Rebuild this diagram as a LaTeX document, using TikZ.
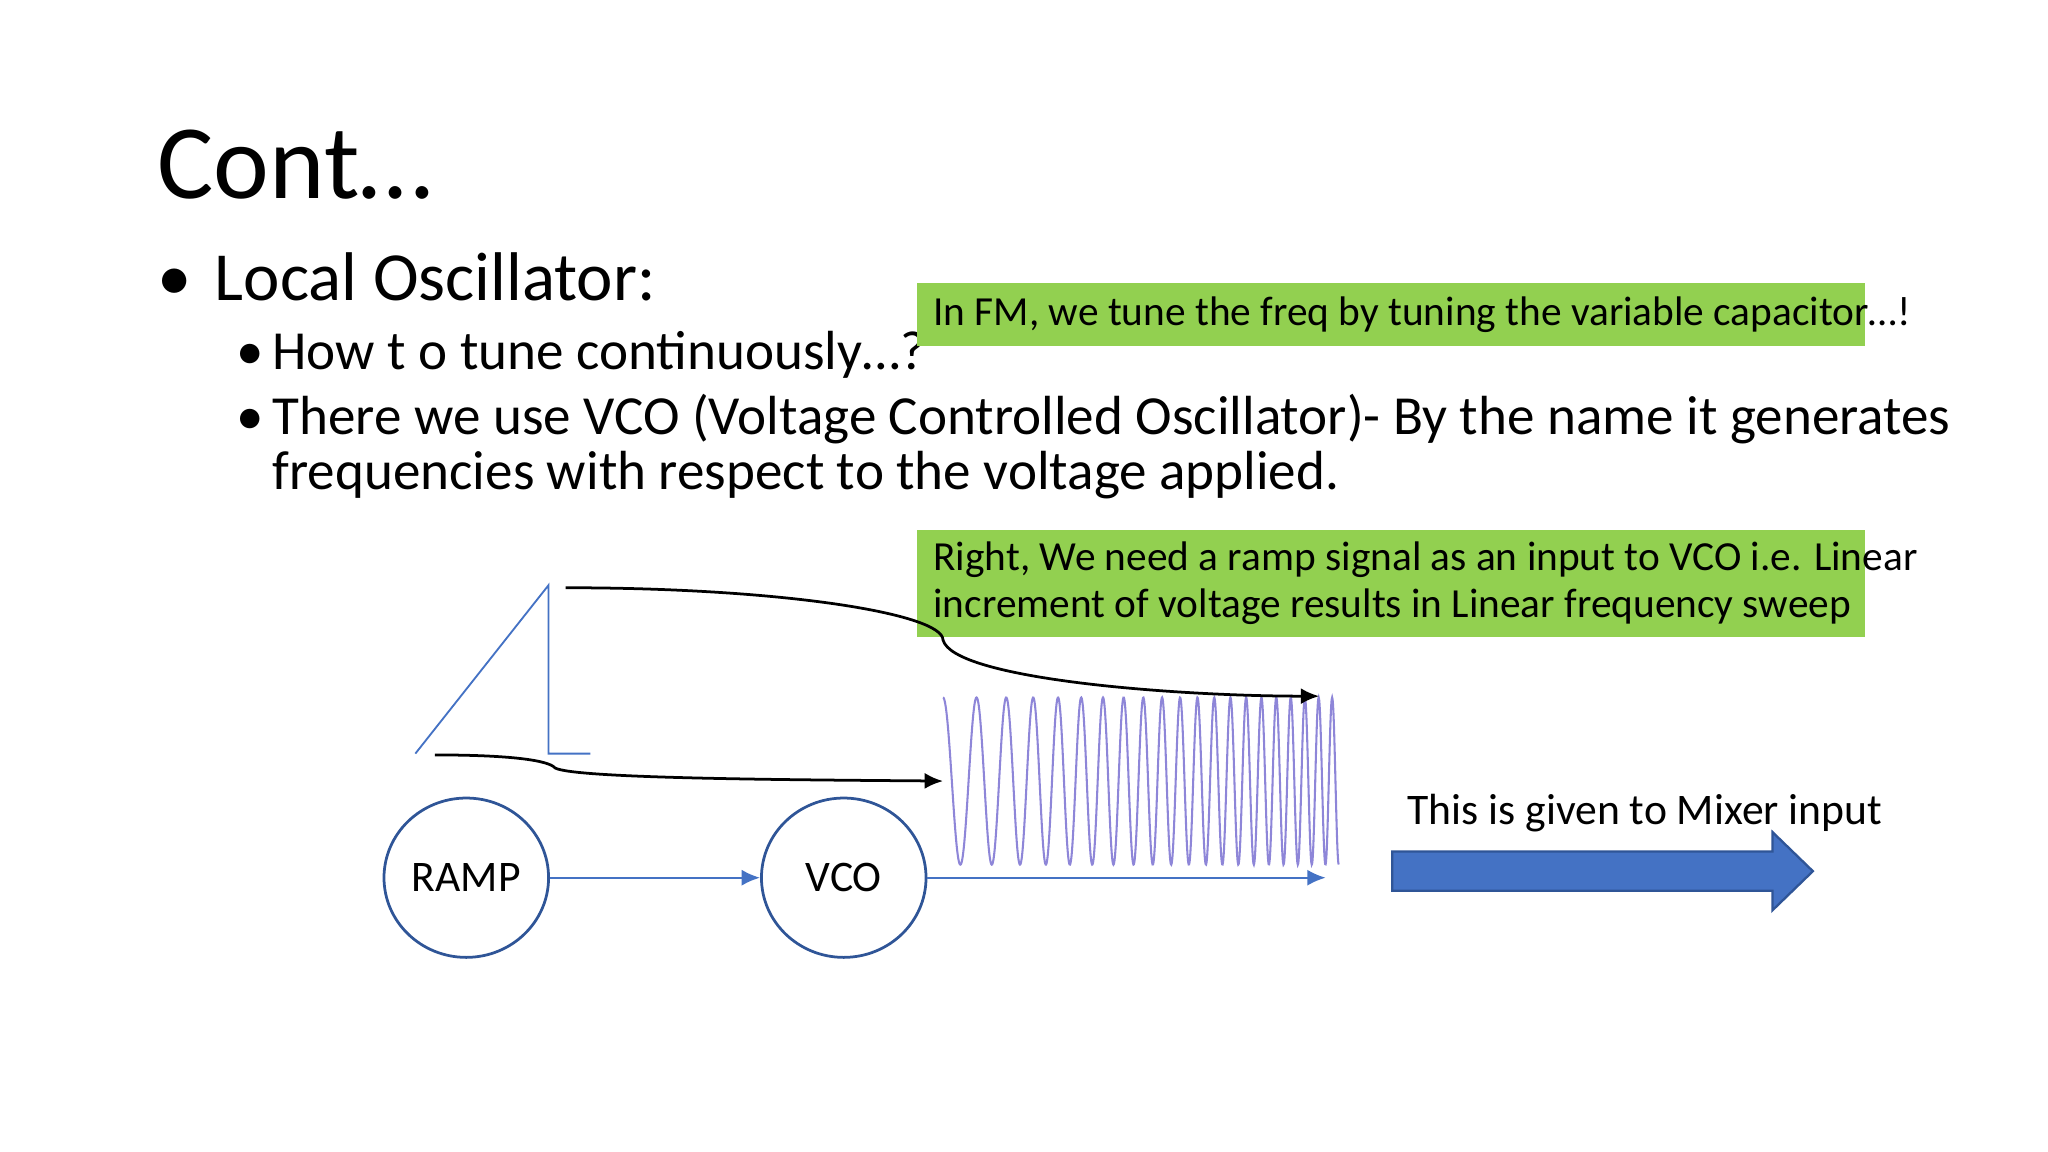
\documentclass[tikz,border=0pt]{standalone}
\usepackage{fontspec}
\setmainfont{Carlito}
\usetikzlibrary{arrows.meta,shapes.geometric}
\definecolor{gbox}{HTML}{92D050}
\definecolor{bl}{HTML}{2F5597}
\definecolor{ab}{HTML}{4472C4}
\definecolor{wv}{HTML}{8E86D8}
\newlength{\un}\setlength{\un}{0.01cm}
\tikzset{
 btxt/.style={anchor=base west,inner sep=0pt},
 circ/.style={draw=bl,line width=0.6pt,ellipse,inner sep=0pt,minimum width=126\un,minimum height=122\un,font=\fontsize{9.5}{11}\selectfont},
 barrow/.style={draw=ab,line width=0.5pt,-{Latex[length=4pt,width=3.5pt]}},
 karrow/.style={draw=black,line width=0.6pt,-{Latex[length=4pt,width=3.5pt]}}
}
\begin{document}
\begin{tikzpicture}[x=0.01cm,y=-0.01cm]
\useasboundingbox (0,0) rectangle (1568,882);
% title and bullets
\node[btxt,font=\fontsize{23}{26}\selectfont] (title) at (120,152) {Cont…};
\node[btxt,font=\fontsize{15}{18}\selectfont] (b1) at (120,230) {•\hspace{5pt}Local Oscillator:};
\node[btxt,font=\fontsize{12}{14}\selectfont] (b2a) at (180,283) {•};
\node[btxt,font=\fontsize{12}{14}\selectfont] (b2) at (208,283) {How t o tune continuously…?};
\node[btxt,font=\fontsize{12}{14}\selectfont] (b3a) at (180,333) {•};
\node[btxt,font=\fontsize{12}{14}\selectfont] (b3) at (208,333) {There we use VCO (Voltage Controlled Oscillator)- By the name it generates};
\node[btxt,font=\fontsize{12}{14}\selectfont] (b3b) at (208,375) {frequencies with respect to the voltage applied.};
% green boxes
\fill[gbox] (702,217) rectangle (1428,265);
\node[btxt,font=\fontsize{9}{11}\selectfont] (g1) at (714,249) {In FM, we tune the freq by tuning the variable capacitor…!};
\fill[gbox] (702,406) rectangle (1428,488);
\node[btxt,font=\fontsize{9}{11}\selectfont] (g2) at (714,437) {Right, We need a ramp signal as an input to VCO i.e. Linear};
\node[btxt,font=\fontsize{9}{11}\selectfont] (g3) at (714,473) {increment of voltage results in Linear frequency sweep};
% ramp waveform
\draw[ab,line width=0.4pt] (318,577) -- (420,448) -- (420,577) -- (452,577);
% chirp
\draw[wv,line width=0.45pt] plot[domain=0:1,samples=900,smooth] ({722+303*\x},{598-64*cos(360*(11*\x+9.5*\x*\x))});
% curved arrows
\coordinate (c1s) at (433,450);
\coordinate (c1m) at (722,490);
\coordinate (c1e) at (1010,533);
\draw[karrow] (c1s) .. controls (600,450) and (722,470) .. (c1m) .. controls (730,520) and (900,533) .. (c1e);
\coordinate (c2s) at (333,578);
\coordinate (c2m) at (425,588);
\coordinate (c2e) at (722,598);
\draw[karrow] (c2s) .. controls (390,578) and (420,582) .. (c2m) .. controls (440,596) and (600,597) .. (c2e);
% circles
\node[circ] (ramp) at (357,672) {RAMP};
\node[circ] (vco) at (646,672) {VCO};
\coordinate (out) at (1015,672);
\draw[barrow] (ramp) -- (vco);
\draw[barrow] (vco.east) -- (out);
% big arrow
\fill[ab,draw=bl,line width=0.5pt] (1066,652) -- (1357,652) -- (1357,637) -- (1388,667) -- (1357,697) -- (1357,682) -- (1066,682) -- cycle;
\node[btxt,font=\fontsize{9.5}{11}\selectfont] (mix) at (1077,631) {This is given to Mixer input};
\end{tikzpicture}
\end{document}
